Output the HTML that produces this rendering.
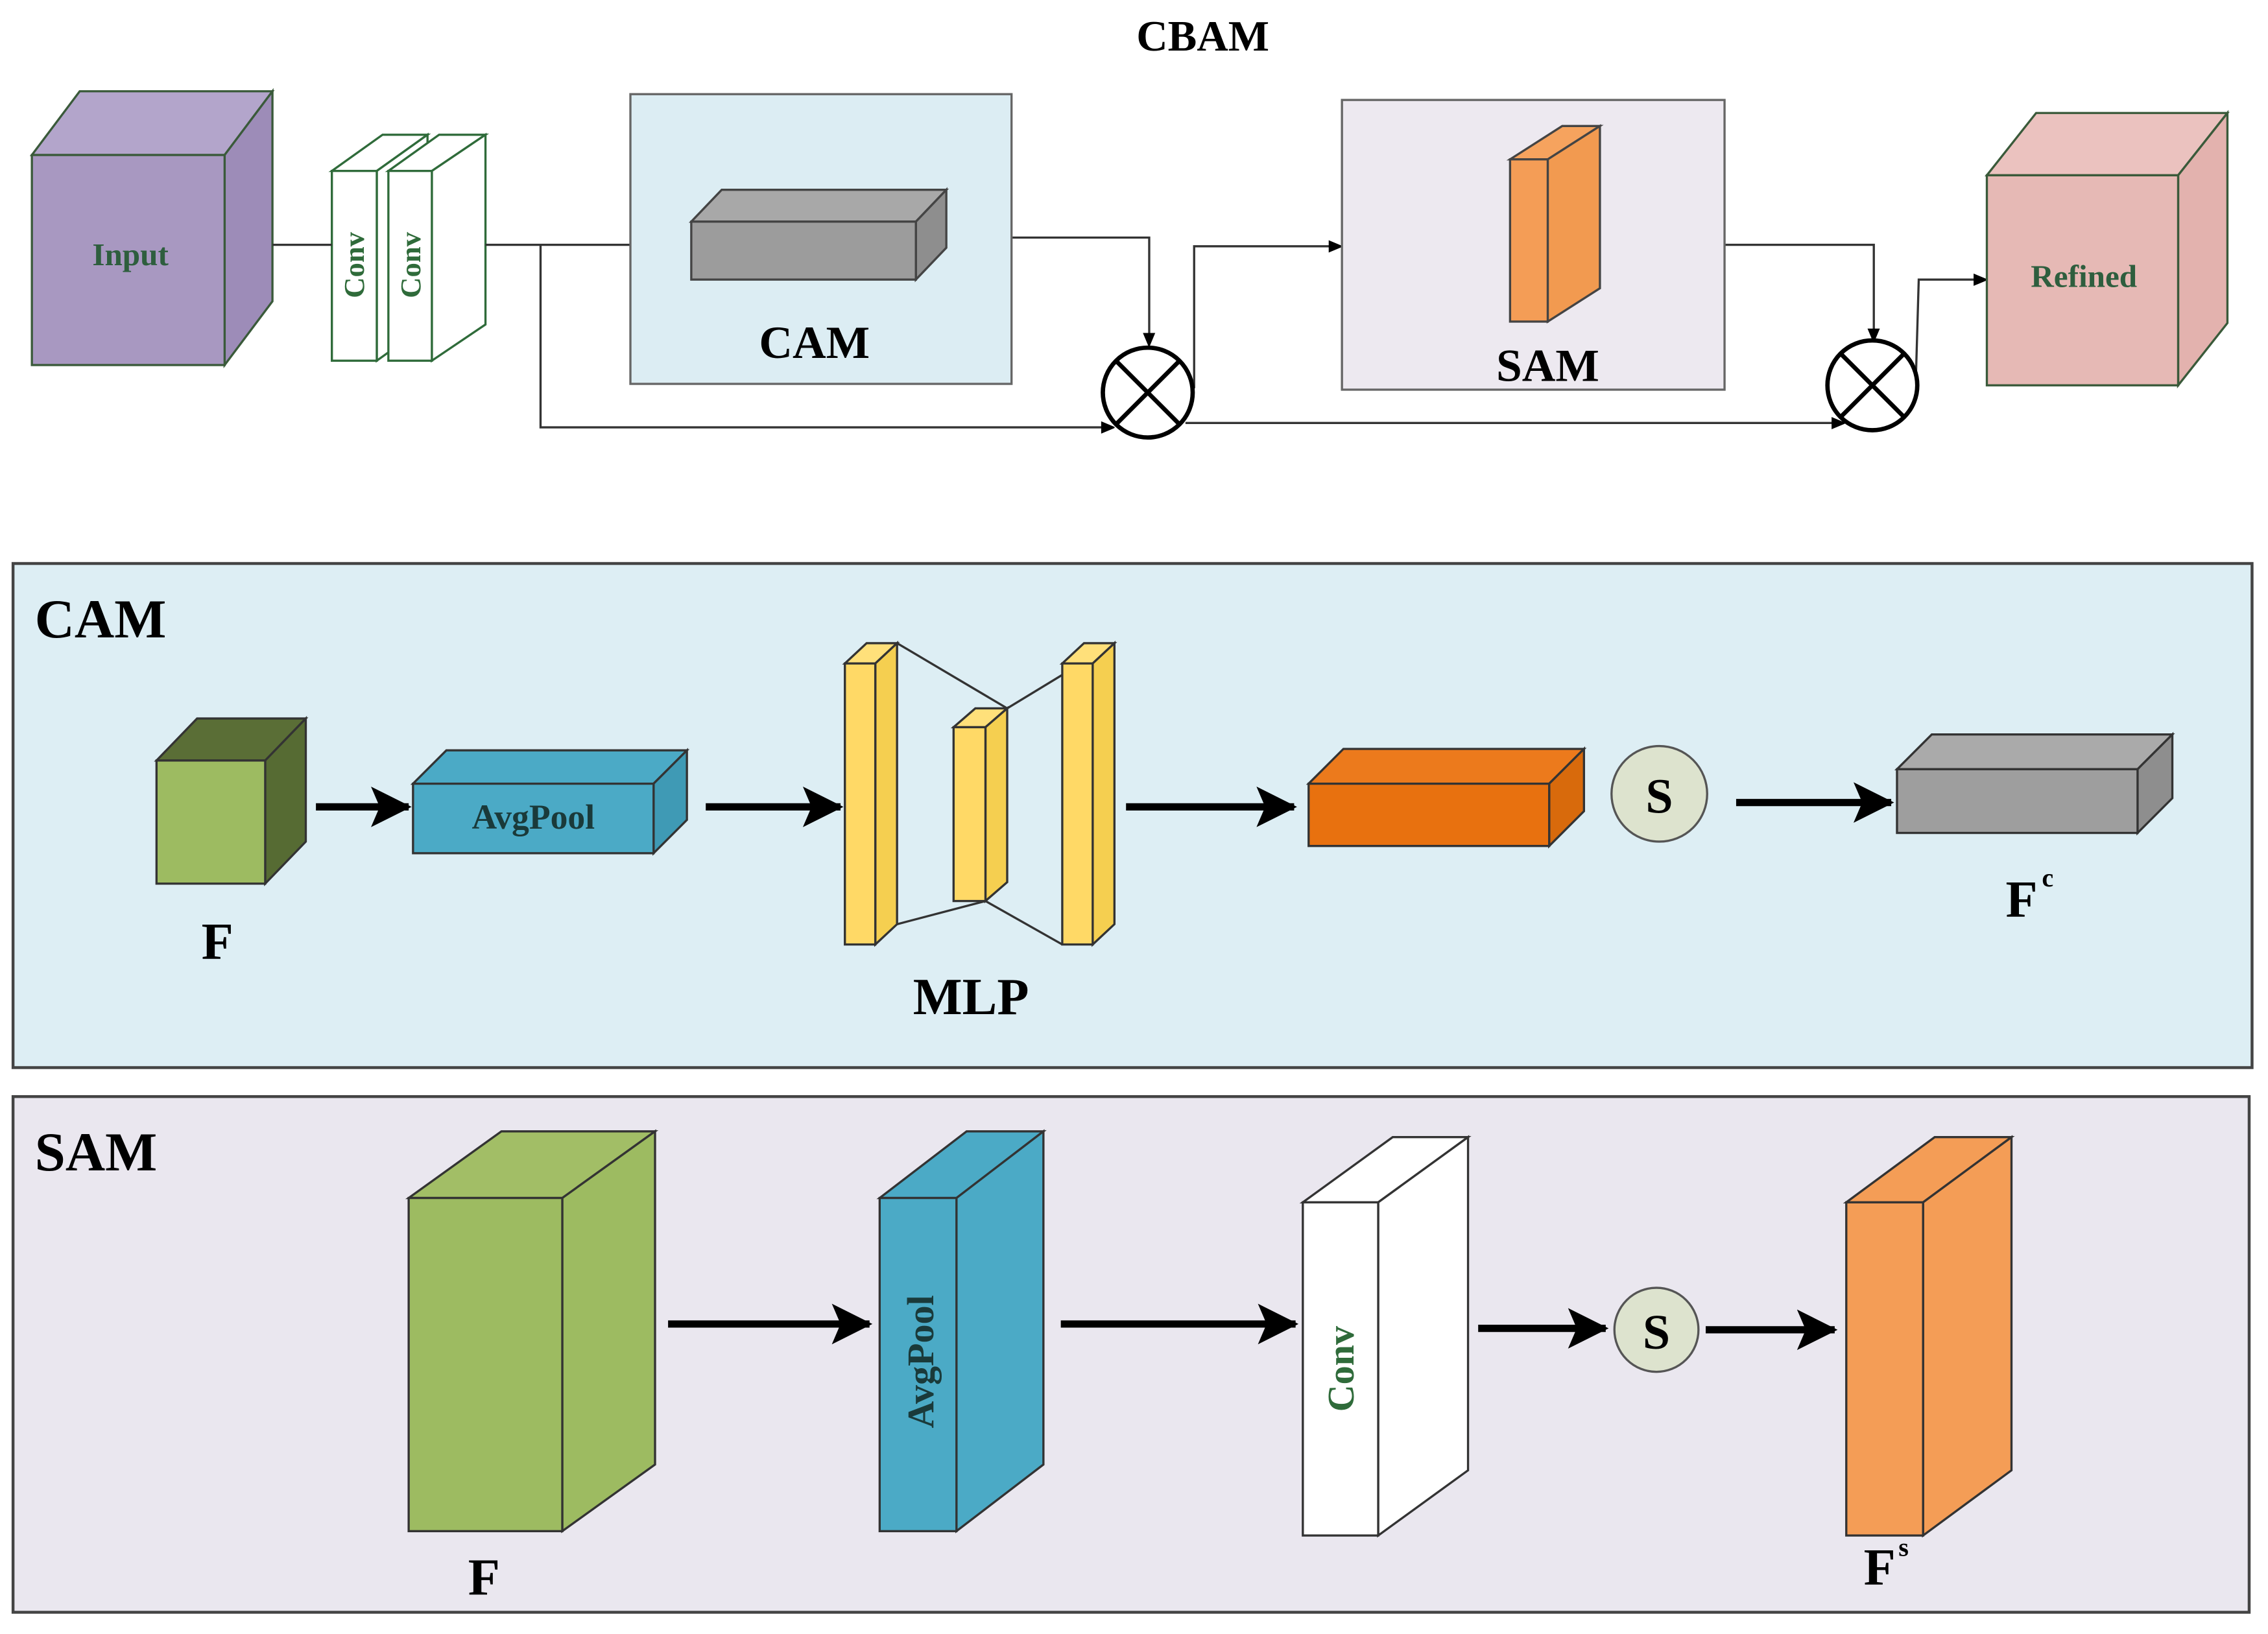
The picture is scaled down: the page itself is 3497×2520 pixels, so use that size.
<!DOCTYPE html>
<html><head><meta charset="utf-8"><style>
html,body{margin:0;padding:0;background:#fff;}
svg{display:block;}
text{font-family:"Liberation Serif",serif;font-weight:bold;}
</style></head><body>
<svg width="3497" height="2520" viewBox="0 0 1565 1128" preserveAspectRatio="none" xmlns="http://www.w3.org/2000/svg">
<defs>
<marker id="a" markerWidth="10" markerHeight="10" refX="9" refY="5" orient="auto" markerUnits="userSpaceOnUse"><path d="M0,0 L12,5 L0,10 Z" fill="#000" transform="scale(0.85) translate(1,1)"/></marker>
<marker id="b" markerWidth="30" markerHeight="30" refX="26" refY="14" orient="auto" markerUnits="userSpaceOnUse"><path d="M0,0 L28,14 L0,28 L6,14 Z" fill="#000"/></marker>
</defs>
<rect width="1565" height="1128" fill="#fff"/>
<text x="830" y="35" font-size="30" text-anchor="middle">CBAM</text>

<g stroke="#3a5a3a" stroke-width="1.5">
<polygon points="22,107 55,63 188,63 155,107" fill="#B3A5CB"/>
<polygon points="155,107 188,63 188,208 155,252" fill="#9D8CB8"/>
<rect x="22" y="107" width="133" height="145" fill="#A898C1"/>
</g>
<text x="90" y="183" font-size="22" fill="#2E5E3E" text-anchor="middle">Input</text>

<g stroke="#2f6b3a" stroke-width="1.5" fill="#fff">
<polygon points="229,118 264,93 295,93 260,118"/><polygon points="260,118 295,93 295,224 260,249"/><rect x="229" y="118" width="31" height="131"/>
<polygon points="268,118 303,93 335,93 298,118"/><polygon points="298,118 335,93 335,224 298,249"/><rect x="268" y="118" width="30" height="131"/>
</g>
<text transform="translate(251,183) rotate(-90)" font-size="20" fill="#2f6b3a" text-anchor="middle">Conv</text>
<text transform="translate(290,183) rotate(-90)" font-size="20" fill="#2f6b3a" text-anchor="middle">Conv</text>

<g stroke="#333" stroke-width="1.5" fill="none">
<line x1="188" y1="169" x2="229" y2="169"/>
<line x1="335" y1="169" x2="435" y2="169"/>
<polyline points="373,169 373,295 768,295" marker-end="url(#a)"/>
<polyline points="698,164 793,164 793,238" marker-end="url(#a)"/>
<polyline points="824,268 824,170 925,170" marker-end="url(#a)"/>
<polyline points="1190,169 1293,169 1293,235" marker-end="url(#a)"/>
<polyline points="818,292 1272,292" marker-end="url(#a)"/>
<polyline points="1322,262 1324,193 1370,193" marker-end="url(#a)"/>
</g>

<rect x="435" y="65" width="263" height="200" fill="#DCEDF3" stroke="#666" stroke-width="1.5"/>
<g stroke="#444" stroke-width="1.5">
<polygon points="477,153 498,131 653,131 632,153" fill="#A8A8A8"/>
<polygon points="632,153 653,131 653,171 632,193" fill="#8E8E8E"/>
<rect x="477" y="153" width="155" height="40" fill="#9C9C9C"/>
</g>
<text x="562" y="247" font-size="32" text-anchor="middle">CAM</text>

<g stroke="#000" stroke-width="3" fill="#fff">
<circle cx="792" cy="271" r="31"/>
<line x1="770" y1="249" x2="814" y2="293"/><line x1="814" y1="249" x2="770" y2="293"/>
<circle cx="1292" cy="266" r="31"/>
<line x1="1270" y1="244" x2="1314" y2="288"/><line x1="1314" y1="244" x2="1270" y2="288"/>
</g>

<rect x="926" y="69" width="264" height="200" fill="#EDE9F0" stroke="#666" stroke-width="1.5"/>
<g stroke="#444" stroke-width="1.5">
<polygon points="1042,110 1078,87 1104,87 1068,110" fill="#F6A35E"/>
<polygon points="1068,110 1104,87 1104,199 1068,222" fill="#F29A50"/>
<rect x="1042" y="110" width="26" height="112" fill="#F49D56"/>
</g>
<text x="1068" y="263" font-size="32" text-anchor="middle">SAM</text>

<g stroke="#3a5a3a" stroke-width="1.5">
<polygon points="1371,121 1405,78 1537,78 1503,121" fill="#EBC2BF"/>
<polygon points="1503,121 1537,78 1537,223 1503,266" fill="#E3B2AE"/>
<rect x="1371" y="121" width="132" height="145" fill="#E6B9B5"/>
</g>
<text x="1438" y="198" font-size="22" fill="#2E5E3E" text-anchor="middle">Refined</text>

<!-- CAM panel -->
<rect x="9" y="389" width="1545" height="348" fill="#DDEEF4" stroke="#444" stroke-width="2"/>
<text x="24" y="440" font-size="38">CAM</text>
<g stroke="#333" stroke-width="1.5">
<polygon points="108,525 136,496 211,496 183,525" fill="#5A6E36"/>
<polygon points="183,525 211,496 211,581 183,610" fill="#566B33"/>
<rect x="108" y="525" width="75" height="85" fill="#9DBB61"/>
</g>
<text x="150" y="662" font-size="36" text-anchor="middle">F</text>
<g stroke="#333" stroke-width="1.5">
<polygon points="285,541 308,518 474,518 451,541" fill="#4BAAC6"/>
<polygon points="451,541 474,518 474,566 451,589" fill="#3F9AB5"/>
<rect x="285" y="541" width="166" height="48" fill="#4BAAC6"/>
</g>
<text x="368" y="572" font-size="24" fill="#1a3a3a" text-anchor="middle">AvgPool</text>
<g stroke="#000" stroke-width="5" fill="none">
<line x1="218" y1="557" x2="282" y2="557" marker-end="url(#b)"/>
<line x1="487" y1="557" x2="580" y2="557" marker-end="url(#b)"/>
<line x1="777" y1="557" x2="893" y2="557" marker-end="url(#b)"/>
<line x1="1198" y1="554" x2="1305" y2="554" marker-end="url(#b)"/>
</g>
<g stroke="#333" stroke-width="1.5">
<line x1="619" y1="444" x2="695" y2="489"/><line x1="619" y1="638" x2="680" y2="622"/>
<line x1="695" y1="489" x2="769" y2="444"/><line x1="680" y1="622" x2="733" y2="652"/>
<polygon points="583,458 598,444 619,444 604,458" fill="#FFE07A"/>
<polygon points="604,458 619,444 619,638 604,652" fill="#F5CF50"/>
<rect x="583" y="458" width="21" height="194" fill="#FFD966"/>
<polygon points="658,502 673,489 695,489 680,502" fill="#FFE07A"/>
<polygon points="680,502 695,489 695,609 680,622" fill="#F5CF50"/>
<rect x="658" y="502" width="22" height="120" fill="#FFD966"/>
<polygon points="733,458 748,444 769,444 754,458" fill="#FFE07A"/>
<polygon points="754,458 769,444 769,638 754,652" fill="#F5CF50"/>
<rect x="733" y="458" width="21" height="194" fill="#FFD966"/>
</g>
<text x="670" y="700" font-size="36" text-anchor="middle">MLP</text>
<g stroke="#333" stroke-width="1.5">
<polygon points="903,541 927,517 1093,517 1069,541" fill="#EC7A1C"/>
<polygon points="1069,541 1093,517 1093,560 1069,584" fill="#D86A0C"/>
<rect x="903" y="541" width="166" height="43" fill="#E8710F"/>
</g>
<circle cx="1145" cy="548" r="33" fill="#DDE3CE" stroke="#555" stroke-width="1.5"/>
<text x="1145" y="561" font-size="34" text-anchor="middle">S</text>
<g stroke="#333" stroke-width="1.5">
<polygon points="1309,531 1333,507 1499,507 1475,531" fill="#AAAAAA"/>
<polygon points="1475,531 1499,507 1499,551 1475,575" fill="#8E8E8E"/>
<rect x="1309" y="531" width="166" height="44" fill="#9E9E9E"/>
</g>
<text x="1395" y="633" font-size="36" text-anchor="middle">F</text>
<text x="1409" y="612" font-size="18">c</text>

<!-- SAM panel -->
<rect x="9" y="757" width="1543" height="356" fill="#EAE7EF" stroke="#444" stroke-width="2"/>
<text x="24" y="808" font-size="38">SAM</text>
<g stroke="#333" stroke-width="1.5">
<polygon points="282,827 346,781 452,781 388,827" fill="#A2BE66"/>
<polygon points="388,827 452,781 452,1011 388,1057" fill="#9DBB61"/>
<rect x="282" y="827" width="106" height="230" fill="#9DBB61"/>
<polygon points="607,827 667,781 720,781 660,827" fill="#4BAAC6"/>
<polygon points="660,827 720,781 720,1011 660,1057" fill="#4BAAC6"/>
<rect x="607" y="827" width="53" height="230" fill="#4BAAC6"/>
<polygon points="899,830 961,785 1013,785 951,830" fill="#fff"/>
<polygon points="951,830 1013,785 1013,1015 951,1060" fill="#fff"/>
<rect x="899" y="830" width="52" height="230" fill="#fff"/>
<polygon points="1274,830 1335,785 1388,785 1327,830" fill="#F49D56"/>
<polygon points="1327,830 1388,785 1388,1015 1327,1060" fill="#F49D56"/>
<rect x="1274" y="830" width="53" height="230" fill="#F49D56"/>
</g>
<g stroke="#000" stroke-width="5" fill="none">
<line x1="461" y1="914" x2="600" y2="914" marker-end="url(#b)"/>
<line x1="732" y1="914" x2="894" y2="914" marker-end="url(#b)"/>
<line x1="1020" y1="917" x2="1108" y2="917" marker-end="url(#b)"/>
<line x1="1177" y1="918" x2="1266" y2="918" marker-end="url(#b)"/>
</g>
<text transform="translate(644,940) rotate(-90)" font-size="26" fill="#1a3a3a" text-anchor="middle">AvgPool</text>
<text transform="translate(934,945) rotate(-90)" font-size="26" fill="#2f6b3a" text-anchor="middle">Conv</text>
<circle cx="1143" cy="918" r="29" fill="#DDE3CE" stroke="#555" stroke-width="1.5"/>
<text x="1143" y="931" font-size="34" text-anchor="middle">S</text>
<text x="334" y="1101" font-size="36" text-anchor="middle">F</text>
<text x="1297" y="1094" font-size="36" text-anchor="middle">F</text>
<text x="1310" y="1074" font-size="18">s</text>
</svg>
</body></html>
